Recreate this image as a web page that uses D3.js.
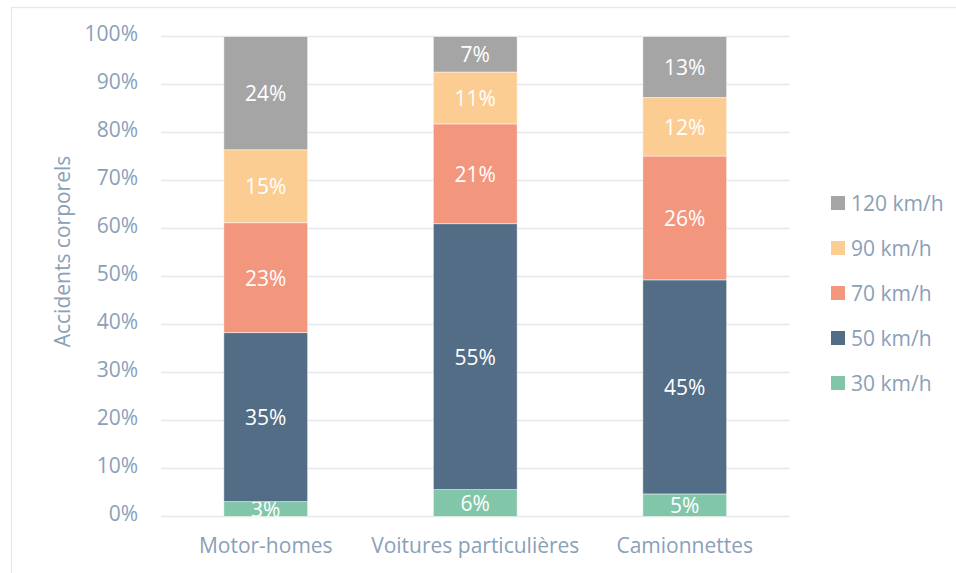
<!DOCTYPE html>
<html>
<head>
<meta charset="utf-8">
<script src="https://cdn.jsdelivr.net/npm/d3@7"></script>
<style>
  body { margin: 0; background: #fff; }
  text { font-family: "Open Sans", sans-serif; }
</style>
</head>
<body>
<div id="chart"></div>
<script>
// data (shares in %)
const categories = ["Motor-homes", "Voitures particulières", "Camionnettes"];
const speeds = ["30 km/h", "50 km/h", "70 km/h", "90 km/h", "120 km/h"];
const v30 = [3.1, 5.6, 4.7];
const v50 = [35.2, 55.4, 44.6];
const v70 = [22.9, 20.8, 25.8];
const v90 = [15.2, 10.8, 12.2];
const v120 = [23.6, 7.4, 12.7];
const yTicks = [0, 10, 20, 30, 40, 50, 60, 70, 80, 90, 100];

const colors = ["#82c6a9", "#536d87", "#f3967e", "#fbcd92", "#a5a5a5"];
const textColor = "#8aa0b8";
const fontSize = "21px";

const width = 956, height = 573;
const margin = { top: 36.5, right: 166.5, bottom: 56.5, left: 161 };
const innerW = width - margin.left - margin.right;
const innerH = height - margin.top - margin.bottom;

const svg = d3.select("#chart").append("svg")
  .attr("width", width)
  .attr("height", height);

// outer frame
svg.append("path")
  .attr("d", `M11.5,${height} V7.5 H${width}`)
  .attr("fill", "none")
  .attr("stroke", "#e4e9ef")
  .attr("stroke-width", 1.3);

const g = svg.append("g")
  .attr("transform", "translate(" + margin.left + "," + margin.top + ")");

const x = d3.scaleBand()
  .domain(categories)
  .range([0, innerW])
  .paddingInner(0.6)
  .paddingOuter(0.3);

const y = d3.scaleLinear()
  .domain([0, 100])
  .range([innerH, 0]);

// gridlines
g.append("g")
  .selectAll("line")
  .data(yTicks)
  .enter()
  .append("line")
  .attr("x1", 0)
  .attr("x2", innerW)
  .attr("y1", d => y(d))
  .attr("y2", d => y(d))
  .attr("stroke", "#e3e8ee")
  .attr("stroke-width", 1.3);

// y axis labels
const yAxis = g.append("g")
  .call(d3.axisLeft(y).tickValues(yTicks).tickFormat(d => d + "%").tickSize(0).tickPadding(23));
yAxis.select(".domain").remove();
yAxis.selectAll("text")
  .attr("fill", textColor)
  .style("font-size", fontSize)
  .attr("dy", "0.2em");

// x axis labels
const xAxis = g.append("g")
  .attr("transform", `translate(0,${innerH})`)
  .call(d3.axisBottom(x).tickSize(0).tickPadding(22));
xAxis.select(".domain").remove();
xAxis.selectAll("text")
  .attr("fill", textColor)
  .style("font-size", fontSize);

// y title
svg.append("text")
  .attr("transform", "translate(70,251.5) rotate(-90)")
  .attr("text-anchor", "middle")
  .attr("fill", textColor)
  .style("font-size", fontSize)
  .text("Accidents corporels");

// stack
const rows = categories.map((c, i) => ({
  cat: c,
  "30 km/h": v30[i], "50 km/h": v50[i], "70 km/h": v70[i],
  "90 km/h": v90[i], "120 km/h": v120[i]
}));
const series = d3.stack().keys(speeds)(rows);

const layers = g.selectAll(".layer")
  .data(series)
  .enter()
  .append("g")
  .attr("class", "layer")
  .attr("fill", (d, i) => colors[i]);

layers.selectAll("rect")
  .data(d => d)
  .enter()
  .append("rect")
  .attr("x", d => x(d.data.cat))
  .attr("width", x.bandwidth())
  .attr("y", d => y(d[1]))
  .attr("height", d => y(d[0]) - y(d[1]))
  .attr("stroke", "#ffffff")
  .attr("stroke-opacity", 0.6)
  .attr("stroke-width", 0.8);

layers.selectAll("text")
  .data(d => d)
  .enter()
  .append("text")
  .attr("x", d => x(d.data.cat) + x.bandwidth() / 2)
  .attr("y", d => (y(d[0]) + y(d[1])) / 2)
  .attr("dy", "0.38em")
  .attr("text-anchor", "middle")
  .attr("fill", "#ffffff")
  .style("font-size", fontSize)
  .text(d => Math.round(d[1] - d[0]) + "%");

// legend
const legend = svg.append("g")
  .attr("transform", "translate(831,0)");

const legItems = legend.selectAll("g")
  .data(speeds.slice().reverse())
  .enter()
  .append("g")
  .attr("transform", (d, i) => `translate(0,${203 + i * 45})`);

legItems.append("rect")
  .attr("x", 0)
  .attr("y", -7)
  .attr("width", 14)
  .attr("height", 14)
  .attr("fill", d => colors[speeds.indexOf(d)]);

legItems.append("text")
  .attr("x", 20)
  .attr("dy", "0.36em")
  .attr("fill", textColor)
  .style("font-size", fontSize)
  .text(d => d);
</script>
</body>
</html>
